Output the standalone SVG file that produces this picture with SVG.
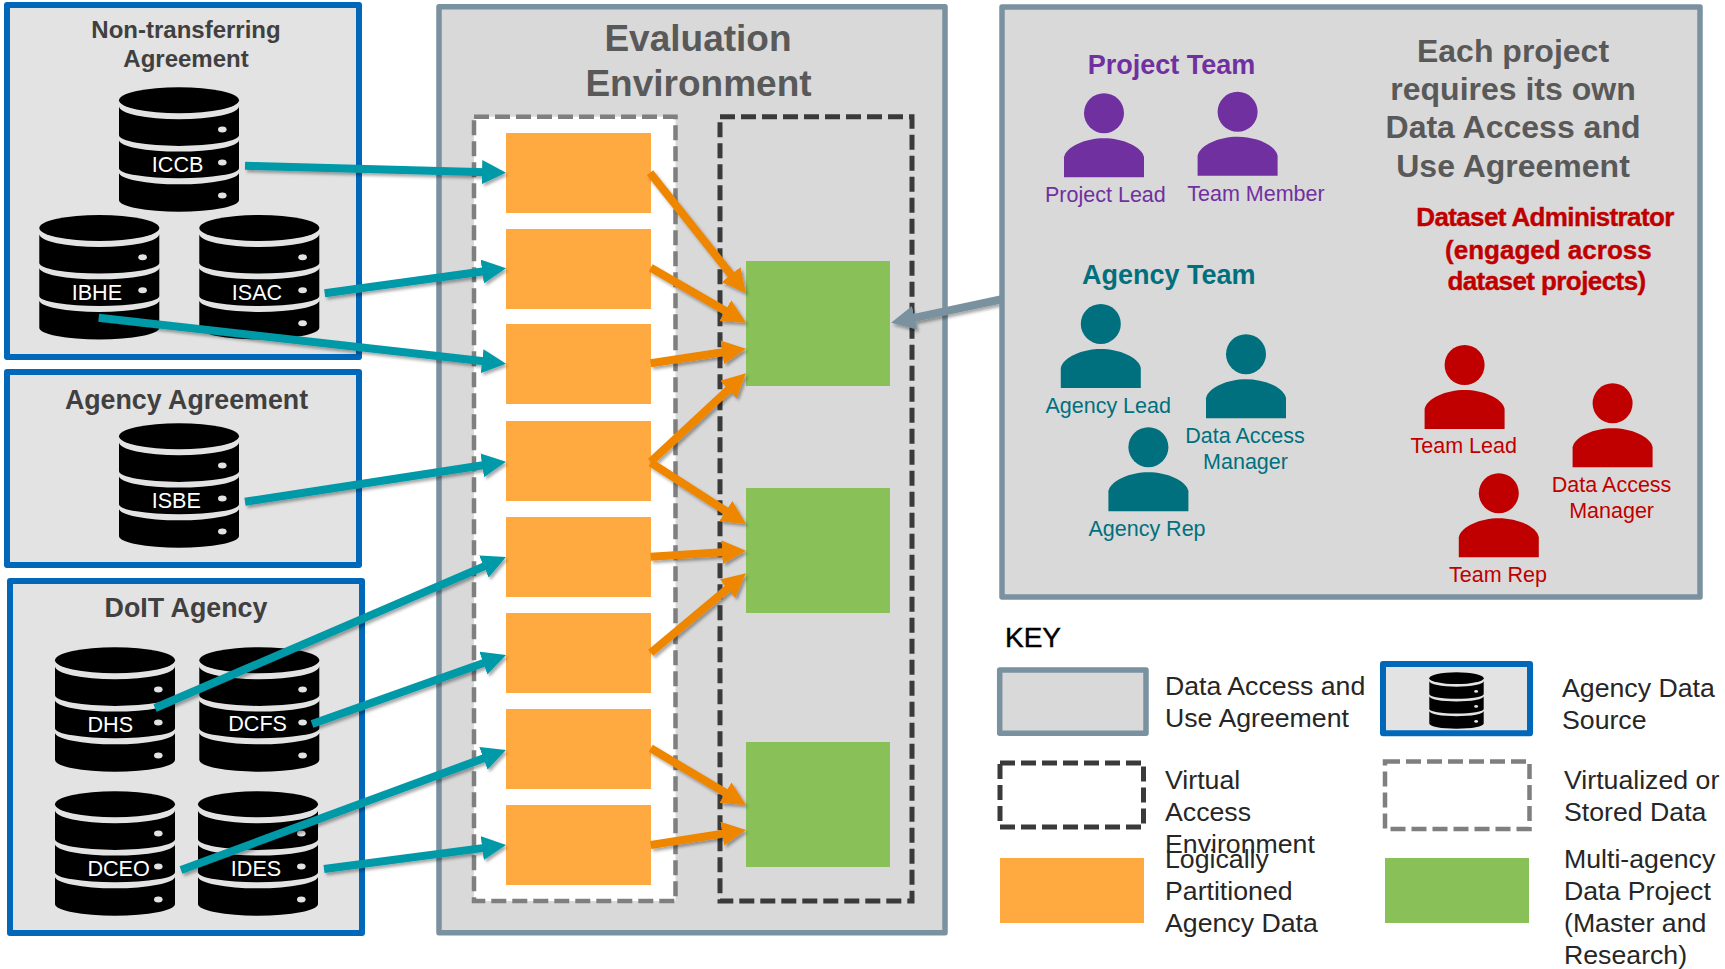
<svg xmlns="http://www.w3.org/2000/svg" xmlns:xlink="http://www.w3.org/1999/xlink" width="1725" height="969" viewBox="0 0 1725 969">
<style>
text{font-family:"Liberation Sans",Arial,sans-serif}
.src{fill:#E3E3E3;stroke:#0067B9;stroke-width:6;stroke-linejoin:round}
.env{fill:#D9D9D9;stroke:#7A929F;stroke-width:5.5;stroke-linejoin:round}
.dg{stroke:#7F7F7F;stroke-width:4.5;stroke-dasharray:15 6;fill:none}
.dk{stroke:#3A3A3A;stroke-width:5;stroke-dasharray:15 6;fill:none}
.or{fill:#FFAA40}
.gr{fill:#8AC058}
.t{font-weight:bold;fill:#404040;font-size:24px;text-anchor:middle}
.t2{font-weight:bold;fill:#404040;font-size:26.8px;text-anchor:middle}
.db{fill:#fff;font-size:21.6px;text-anchor:middle}
.h{font-weight:bold;fill:#595959;font-size:37px;text-anchor:middle}
.h2{font-weight:bold;fill:#595959;font-size:32px;text-anchor:middle}
.pu{fill:#7030A0}.te{fill:#00707E}.re{fill:#C00000}
.team{font-weight:bold;font-size:27px;text-anchor:middle}
.adm{font-weight:bold;font-size:26px;text-anchor:middle;stroke:#C00000;stroke-width:.4px}
.lb{font-size:21.5px;text-anchor:middle}
.k{font-size:26.7px;fill:#262626}
.ka{stroke-width:8;fill:none}
.tl{stroke:#0099A8;marker-end:url(#mt)}
.og{stroke:#EE8600;marker-end:url(#mo)}
.gy{stroke:#7A929F;marker-end:url(#mg)}
</style>
<defs>
<filter id="sh" x="-20%" y="-20%" width="140%" height="140%"><feDropShadow dx="2" dy="2.5" stdDeviation="1.8" flood-color="#000" flood-opacity="0.35"/></filter>
<marker id="mt" markerUnits="userSpaceOnUse" markerWidth="24" markerHeight="24" refX="4" refY="12" orient="auto"><path d="M0 0L24 12L0 24Z" fill="#0099A8"/></marker>
<marker id="mo" markerUnits="userSpaceOnUse" markerWidth="24" markerHeight="24" refX="4" refY="12" orient="auto"><path d="M0 0L24 12L0 24Z" fill="#EE8600"/></marker>
<marker id="mg" markerUnits="userSpaceOnUse" markerWidth="24" markerHeight="24" refX="4" refY="12" orient="auto"><path d="M0 0L24 12L0 24Z" fill="#7A929F"/></marker>
<g id="dbi">
<ellipse cx="60" cy="13" rx="60" ry="13"/>
<path d="M0 19A60 13 0 0 0 120 19V48A60 10.6 0 0 1 0 48Z"/>
<path d="M0 52.7A60 11.6 0 0 0 120 52.7V81A60 10 0 0 1 0 81Z"/>
<path d="M0 85.3A60 11.7 0 0 0 120 85.3V112.7A60 11.7 0 0 1 0 112.7Z"/>
<ellipse cx="103.3" cy="42.3" rx="4.3" ry="3" fill="#E3E3E3"/>
<ellipse cx="103.3" cy="75.3" rx="4.3" ry="3" fill="#E3E3E3"/>
<ellipse cx="103.3" cy="108.3" rx="4.3" ry="3" fill="#E3E3E3"/>
</g>
<g id="person"><ellipse cx="40" cy="20" rx="20" ry="20"/><path d="M0 84V64C2 53 22 45 40 45C58 45 78 53 80 64V84Z"/></g>
</defs>
<rect width="1725" height="969" fill="#fff"/>

<g id="non-transferring">
<rect class="src" x="7" y="5" width="352" height="352"/>
<text class="t" x="186" y="38">Non-transferring</text>
<text class="t" x="186" y="67">Agreement</text>
<use xlink:href="#dbi" x="119" y="87.3"/><text class="db" x="177.6" y="172">ICCB</text>
<use xlink:href="#dbi" x="39.3" y="215"/><text class="db" x="96.9" y="300">IBHE</text>
<use xlink:href="#dbi" x="199.3" y="215"/><text class="db" x="257" y="300">ISAC</text>
</g>
<g id="agency-agreement">
<rect class="src" x="7" y="372" width="352" height="193"/>
<text class="t2" x="186.5" y="409.3">Agency Agreement</text>
<use xlink:href="#dbi" x="119" y="423.3"/><text class="db" x="176.3" y="508.3">ISBE</text>
</g>
<g id="doit-agency">
<rect class="src" x="10" y="581" width="352" height="352"/>
<text class="t2" x="186" y="617">DoIT Agency</text>
<use xlink:href="#dbi" x="55" y="647.3"/><text class="db" x="110.3" y="732">DHS</text>
<use xlink:href="#dbi" x="199.3" y="647.3"/><text class="db" x="257.6" y="731">DCFS</text>
<use xlink:href="#dbi" x="55" y="791.3"/><text class="db" x="118.6" y="876">DCEO</text>
<use xlink:href="#dbi" x="198" y="791.3"/><text class="db" x="256" y="876">IDES</text>
</g>
<g id="evaluation-environment">
<rect class="env" x="439" y="6.7" width="506" height="926"/>
<text class="h" x="698" y="50.7">Evaluation</text>
<text class="h" x="698.5" y="95.5">Environment</text>
<rect x="474" y="116.7" width="201.5" height="784.3" fill="#fff"/>
<rect class="dg" x="474" y="116.7" width="201.5" height="784.3"/>
<rect class="dk" x="720" y="116.7" width="192" height="784.3"/>
</g>
<g id="agency-data">
<rect class="or" x="506" y="133" width="145" height="80"/>
<rect class="or" x="506" y="229" width="145" height="80"/>
<rect class="or" x="506" y="324" width="145" height="80"/>
<rect class="or" x="506" y="421" width="145" height="80"/>
<rect class="or" x="506" y="517" width="145" height="80"/>
<rect class="or" x="506" y="613" width="145" height="80"/>
<rect class="or" x="506" y="709" width="145" height="80"/>
<rect class="or" x="506" y="805" width="145" height="80"/>
</g>
<g id="projects">
<rect class="gr" x="746" y="261" width="144" height="125"/>
<rect class="gr" x="746" y="488" width="144" height="125"/>
<rect class="gr" x="746" y="742" width="144" height="125"/>
</g>

<g id="connectors" filter="url(#sh)">
<path class="ka tl" d="M245 165.7L486 172.2"/>
<path class="ka tl" d="M324.7 293.3L486.2 271"/>
<path class="ka tl" d="M98.7 317.7L486.1 361.5"/>
<path class="ka tl" d="M245 501.7L486.2 464.7"/>
<path class="ka tl" d="M155 708L487.6 564.9"/>
<path class="ka tl" d="M312 724L487.2 661.7"/>
<path class="ka tl" d="M181 870L487.2 756.9"/>
<path class="ka tl" d="M324 869L486.2 847.6"/>
<path class="ka og" d="M650 172.7L733.5 277.7"/>
<path class="ka og" d="M650.7 267.7L728.7 312.7"/>
<path class="ka og" d="M650.7 363.3L726.2 351.7"/>
<path class="ka og" d="M650.7 461.7L731.3 386.9"/>
<path class="ka og" d="M650.7 462.7L729.2 513.2"/>
<path class="ka og" d="M650.7 556.7L726 552"/>
<path class="ka og" d="M650.7 652.7L730.6 586.1"/>
<path class="ka og" d="M650.7 748.3L728.8 794.8"/>
<path class="ka og" d="M650.7 845L726.2 833.1"/>
<path class="ka gy" d="M1003 299L910.6 318.6"/>
</g>

<g id="access-panel">
<rect class="env" x="1002" y="7" width="698" height="590"/>
<text class="h2" x="1513" y="62.3">Each project</text>
<text class="h2" x="1513" y="100.4">requires its own</text>
<text class="h2" x="1513" y="138">Data Access and</text>
<text class="h2" x="1513" y="177">Use Agreement</text>
</g>
<g id="project-team" class="pu">
<text class="team" x="1171.5" y="73.5">Project Team</text>
<use xlink:href="#person" x="1064" y="93.2"/>
<use xlink:href="#person" x="1197.6" y="91.8"/>
<text class="lb" x="1105.4" y="202">Project Lead</text>
<text class="lb" x="1256" y="201">Team Member</text>
</g>
<g id="agency-team" class="te">
<text class="team" x="1168.8" y="283.5">Agency Team</text>
<use xlink:href="#person" x="1060.8" y="303.9"/>
<use xlink:href="#person" x="1206" y="334.2"/>
<use xlink:href="#person" x="1108.4" y="427.2"/>
<text class="lb" x="1108.2" y="413.2">Agency Lead</text>
<text class="lb" x="1245" y="443">Data Access</text>
<text class="lb" x="1245.5" y="469">Manager</text>
<text class="lb" x="1147" y="536">Agency Rep</text>
</g>
<g id="dataset-administrator" class="re">
<text class="adm" x="1545" y="226" letter-spacing="-.63">Dataset Administrator</text>
<text class="adm" x="1548.4" y="258.8">(engaged across</text>
<text class="adm" x="1546.5" y="290.3" letter-spacing="-.58">dataset projects)</text>
<use xlink:href="#person" x="1424.6" y="345"/>
<use xlink:href="#person" x="1572.6" y="383.3"/>
<use xlink:href="#person" x="1458.8" y="473.2"/>
<text class="lb" x="1463.7" y="453">Team Lead</text>
<text class="lb" x="1611.6" y="492">Data Access</text>
<text class="lb" x="1611.6" y="518">Manager</text>
<text class="lb" x="1498" y="582">Team Rep</text>
</g>

<g id="key">
<text x="1005" y="647" font-size="28" fill="#000" stroke="#000" stroke-width=".4">KEY</text>
<rect class="env" x="999.7" y="670" width="146.3" height="63.3"/>
<text class="k" x="1165" y="695">Data Access and</text>
<text class="k" x="1165" y="727">Use Agreement</text>
<rect class="src" x="1383" y="664" width="147" height="69.3"/>
<use xlink:href="#dbi" transform="translate(1429.3 672.3) scale(.4533)"/>
<text class="k" x="1562" y="697">Agency Data</text>
<text class="k" x="1562" y="729">Source</text>
<rect class="dk" x="1000" y="763" width="143.5" height="64"/>
<text class="k" x="1165" y="789.3">Virtual</text>
<text class="k" x="1165" y="821.3">Access</text>
<text class="k" x="1165" y="853.3">Environment</text>
<rect class="dg" x="1385" y="761.5" width="144.5" height="67.5"/>
<text class="k" x="1564" y="789.3">Virtualized or</text>
<text class="k" x="1564" y="821.3">Stored Data</text>
<rect class="or" x="1000" y="858" width="144" height="65"/>
<text class="k" x="1165" y="868.3">Logically</text>
<text class="k" x="1165" y="900.3">Partitioned</text>
<text class="k" x="1165" y="932.3">Agency Data</text>
<rect class="gr" x="1385" y="858" width="144" height="65"/>
<text class="k" x="1564" y="868.3">Multi-agency</text>
<text class="k" x="1564" y="900.3">Data Project</text>
<text class="k" x="1564" y="932.3">(Master and</text>
<text class="k" x="1564" y="964.3">Research)</text>
</g>
</svg>
